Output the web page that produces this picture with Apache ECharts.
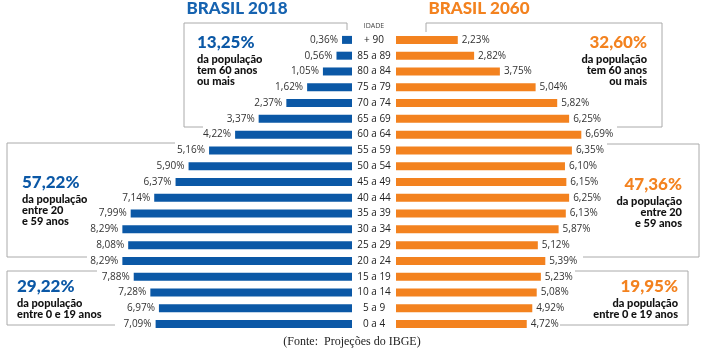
<!DOCTYPE html>
<html>
<head>
<meta charset="utf-8">
<script src="https://cdn.jsdelivr.net/npm/echarts@6/dist/echarts.min.js"></script>
<style>
html, body { margin: 0; padding: 0; background: #fff; }
#main { width: 705px; height: 352px; }
</style>
</head>
<body>
<div id="main"></div>
<script>
var myChart = echarts.init(document.getElementById("main"));

// faixas etarias, de cima para baixo
var idades = ['+ 90', '85 a 89', '80 a 84', '75 a 79', '70 a 74', '65 a 69', '60 a 64',
  '55 a 59', '50 a 54', '45 a 49', '40 a 44', '35 a 39', '30 a 34', '25 a 29',
  '20 a 24', '15 a 19', '10 a 14', '5 a 9', '0 a 4'];
var brasil2018 = [0.36, 0.56, 1.05, 1.62, 2.37, 3.37, 4.22,
  5.16, 5.90, 6.37, 7.14, 7.99, 8.29, 8.08, 8.29,
  7.88, 7.28, 6.97, 7.09];
var brasil2060 = [2.23, 2.82, 3.75, 5.04, 5.82, 6.25, 6.69,
  6.35, 6.10, 6.15, 6.25, 6.13, 5.87, 5.12, 5.39,
  5.23, 5.08, 4.92, 4.72];

var azul = '#0b58a6';
var laranja = '#f3821f';
var cinza = '#aaaaaa';

function pct(p) {
  return p.value.toFixed(2).replace('.', ',') + '%';
}

var labelStyle = {
  show: true,
  fontFamily: 'Open Sans',
  fontSize: 10,
  color: '#333',
  distance: 4,
  formatter: pct
};

// caixas de texto (grupos de idade)
function bloco(x, y, big, cor, linhas, align) {
  var els = [{
    type: 'text', x: x, y: y,
    style: { text: big, fill: cor, font: '900 17px Lato', textAlign: align, textVerticalAlign: 'middle' }
  }];
  for (var i = 0; i < linhas.length; i++) {
    els.push({
      type: 'text', x: x, y: y + 16 + i * 11,
      style: { text: linhas[i], fill: '#111', font: '900 11px Lato', textAlign: align, textVerticalAlign: 'middle' }
    });
  }
  return els;
}
function moldura(pts) {
  return {
    type: 'polyline',
    shape: { points: pts },
    style: { stroke: cinza, lineWidth: 1, fill: null }
  };
}

var graficos = [
  { type: 'text', x: 237, y: 9, style: { text: 'BRASIL 2018', fill: '#1663b0', font: '900 17px Lato', textAlign: 'center', textVerticalAlign: 'middle' } },
  { type: 'text', x: 479, y: 9, style: { text: 'BRASIL 2060', fill: laranja, font: '900 17px Lato', textAlign: 'center', textVerticalAlign: 'middle' } },
  { type: 'text', x: 374, y: 26, style: { text: 'IDADE', fill: '#444', font: '7px "Open Sans"', textAlign: 'center', textVerticalAlign: 'middle' } },
  moldura([[203, 127], [184, 127], [184, 23], [347, 23], [347, 30]]),
  moldura([[426, 32], [426, 23], [662, 23], [662, 127], [617, 127]]),
  moldura([[175, 143], [7, 143], [7, 257], [87, 257]]),
  moldura([[607, 144], [699, 144], [699, 257], [583, 257]]),
  moldura([[97, 271], [7, 271], [7, 325], [115, 325]]),
  moldura([[575, 271], [688, 271], [688, 325], [560, 325]]),
  { type: 'text', x: 352, y: 342, style: { text: '(Fonte:  Projeções do IBGE)', fill: '#222', font: '12px "Liberation Serif"', textAlign: 'center', textVerticalAlign: 'middle' } }
];
graficos = graficos
  .concat(bloco(197, 43, '13,25%', azul, ['da população', 'tem 60 anos', 'ou mais'], 'left'))
  .concat(bloco(647, 43, '32,60%', laranja, ['da população', 'tem 60 anos', 'ou mais'], 'right'))
  .concat(bloco(22, 183, '57,22%', azul, ['da população', 'entre 20', 'e 59 anos'], 'left'))
  .concat(bloco(682, 185, '47,36%', laranja, ['da população', 'entre 20', 'e 59 anos'], 'right'))
  .concat(bloco(17, 287, '29,22%', azul, ['da população', 'entre 0 e 19 anos'], 'left'))
  .concat(bloco(678, 287, '19,95%', laranja, ['da população', 'entre 0 e 19 anos'], 'right'));

option = {
  backgroundColor: '#fff',
  animation: false,
  grid: [
    { left: 75, width: 277, top: 32, bottom: 20 },
    { left: 396, width: 277, top: 32, bottom: 20 }
  ],
  xAxis: [
    { gridIndex: 0, type: 'value', min: 0, max: 10, inverse: true, show: false },
    { gridIndex: 1, type: 'value', min: 0, max: 10, show: false }
  ],
  yAxis: [
    { gridIndex: 0, type: 'category', data: idades, inverse: true, show: false },
    {
      gridIndex: 1, type: 'category', data: idades, inverse: true,
      axisLine: { show: false }, axisTick: { show: false },
      axisLabel: { align: 'center', margin: 22, fontFamily: 'Open Sans', fontSize: 10, color: '#222' }
    }
  ],
  series: [
    {
      name: 'Brasil 2018', type: 'bar', xAxisIndex: 0, yAxisIndex: 0,
      data: brasil2018, barWidth: 8,
      itemStyle: { color: azul },
      label: Object.assign({ position: 'left' }, labelStyle)
    },
    {
      name: 'Brasil 2060', type: 'bar', xAxisIndex: 1, yAxisIndex: 1,
      data: brasil2060, barWidth: 8,
      itemStyle: { color: laranja },
      label: Object.assign({ position: 'right' }, labelStyle)
    }
  ],
  graphic: graficos
};

myChart.setOption(option);
</script>
</body>
</html>
